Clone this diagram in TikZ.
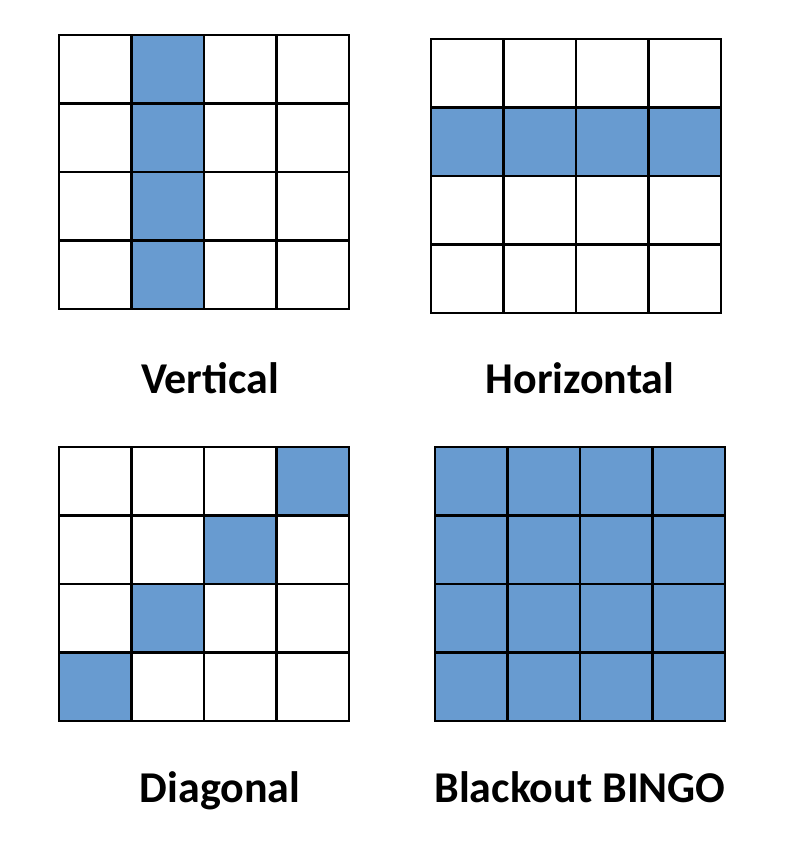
\documentclass[tikz,border=0pt]{standalone}
\usepackage{fontspec}
\setmainfont{Carlito}
\definecolor{bingoblue}{RGB}{104,155,208}
\tikzset{
    cell/.style={draw=black, line width=2.2pt, line join=miter},
    marked/.style={fill=bingoblue},
    caption/.style={font=\bfseries\fontsize{44}{44}\selectfont, anchor=base, inner sep=0pt},
    common settings/.style={x=1pt, y=-1pt}
}

\begin{document}
\begin{tikzpicture}[common settings]

    \def\w{72.5}   % cell width
    \def\h{68.5}   % cell height

    \useasboundingbox (0,0) rectangle (790,856);

    % Vertical (second column)
    \foreach \r in {0,...,3}
        \fill[marked] (59+\w,35+\r*\h) rectangle ++(\w,\h);
    \foreach \c in {0,...,3}
        \foreach \r in {0,...,3}
            \draw[cell] (59+\c*\w,35+\r*\h) rectangle ++(\w,\h);

    % Horizontal (second row)
    \foreach \c in {0,...,3}
        \fill[marked] (431+\c*\w,39+\h) rectangle ++(\w,\h);
    \foreach \c in {0,...,3}
        \foreach \r in {0,...,3}
            \draw[cell] (431+\c*\w,39+\r*\h) rectangle ++(\w,\h);

    % Diagonal (bottom left to top right)
    \foreach \c in {0,...,3}
        \fill[marked] (59+\c*\w,447+3*\h-\c*\h) rectangle ++(\w,\h);
    \foreach \c in {0,...,3}
        \foreach \r in {0,...,3}
            \draw[cell] (59+\c*\w,447+\r*\h) rectangle ++(\w,\h);

    % Blackout (every cell)
    \foreach \c in {0,...,3}
        \foreach \r in {0,...,3}
            \draw[cell, marked] (435+\c*\w,447+\r*\h) rectangle ++(\w,\h);

    % Captions
    \node[caption] (vertical) at (210,393) {Vertical};
    \node[caption] (horizontal) at (580,393) {Horizontal};
    \node[caption] (diagonal) at (220,802) {Diagonal};
    \node[caption] (blackout) at (580,802) {Blackout BINGO};

\end{tikzpicture}
\end{document}
